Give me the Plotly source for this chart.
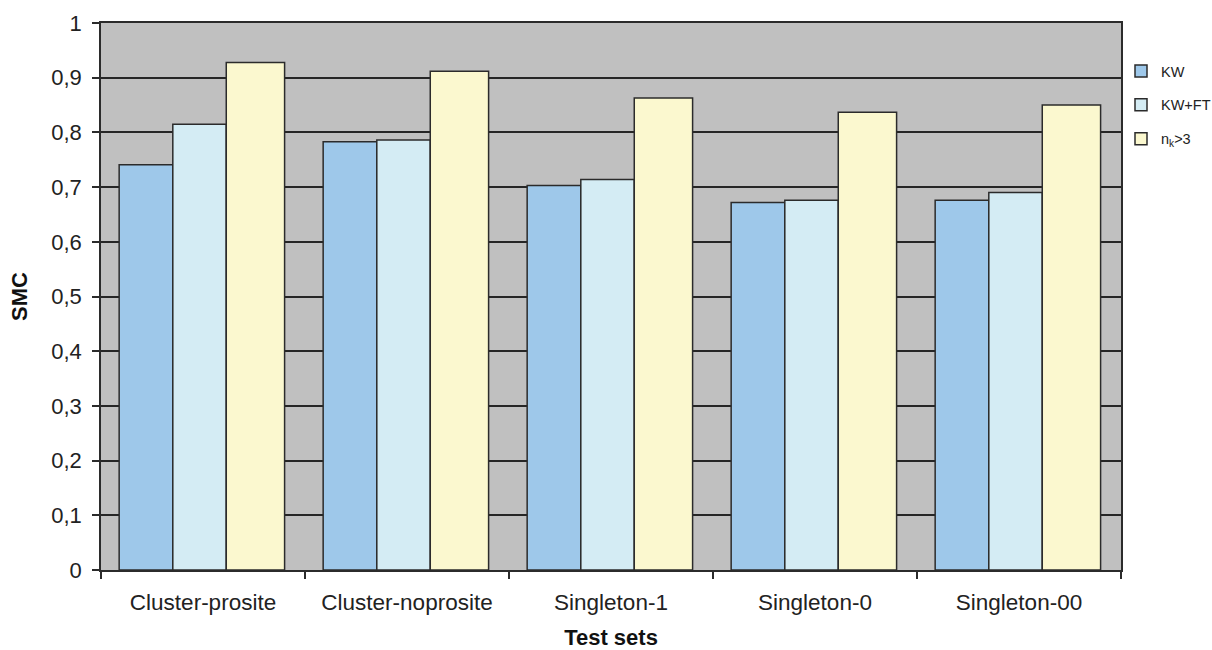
import plotly.graph_objects as go

# Test sets on the x axis
categories = ["Cluster-prosite", "Cluster-noprosite", "Singleton-1", "Singleton-0", "Singleton-00"]

# SMC scores per method
kw = [0.741, 0.783, 0.703, 0.672, 0.676]
kw_ft = [0.815, 0.786, 0.714, 0.676, 0.690]
nk_gt3 = [0.928, 0.912, 0.863, 0.837, 0.850]

series_names = ["KW", "KW+FT", "n<sub>k</sub>&gt;3"]
y_ticks = [0, 0.1, 0.2, 0.3, 0.4, 0.5, 0.6, 0.7, 0.8, 0.9, 1]

colors = ["#9EC8EA", "#D4ECF4", "#FBF8CF"]
offsets = [-0.411, -0.148, 0.114]
widths = [0.263, 0.262, 0.286]
edge = "#2b2b2b"
font_family = "Liberation Sans, Arial, sans-serif"

fig = go.Figure()
for i, (name, vals) in enumerate(zip(series_names, [kw, kw_ft, nk_gt3])):
    fig.add_trace(go.Bar(
        x=categories,
        y=vals,
        name=name,
        legendgroup=f"g{i}",
        offset=offsets[i],
        width=widths[i],
        marker=dict(color=colors[i], line=dict(color=edge, width=1.5)),
    ))

fig.update_layout(
    width=1212,
    height=650,
    margin=dict(l=101, r=89, t=23, b=80),
    paper_bgcolor="white",
    plot_bgcolor="#C0C0C0",
    barmode="overlay",
    separators=", ",
    font=dict(family=font_family, color="#222222", size=22),
    legend=dict(
        xref="container", yref="container",
        x=1121 / 1212, xanchor="left",
        y=1 - 55 / 650, yanchor="top",
        font=dict(size=14.5, color="#222222"),
        tracegroupgap=12,
        bgcolor="rgba(0,0,0,0)",
        borderwidth=0,
    ),
    showlegend=True,
)

fig.update_xaxes(
    type="category",
    showline=True, mirror=True, linecolor=edge, linewidth=1.5,
    ticks="outside", tickson="boundaries", ticklen=7, tickcolor=edge, tickwidth=1.5,
    showgrid=False,
    tickfont=dict(size=22.5, color="#222222"),
    ticklabelstandoff=11,
    title=dict(text="<b>Test sets</b>", font=dict(size=22, color="#111111"), standoff=24),
    automargin=False,
)

fig.update_yaxes(
    range=[0, 1],
    tickvals=y_ticks,
    showline=True, mirror=True, linecolor=edge, linewidth=1.5,
    ticks="outside", ticklen=7, tickcolor=edge, tickwidth=1.5,
    showgrid=True, gridcolor="#262626", gridwidth=1.5,
    zeroline=False,
    tickfont=dict(size=22, color="#222222"),
    ticklabelstandoff=6,
    title=dict(text="<b>SMC</b>", font=dict(size=22, color="#111111"), standoff=18),
    automargin=False,
)

fig.write_html("out.html")
